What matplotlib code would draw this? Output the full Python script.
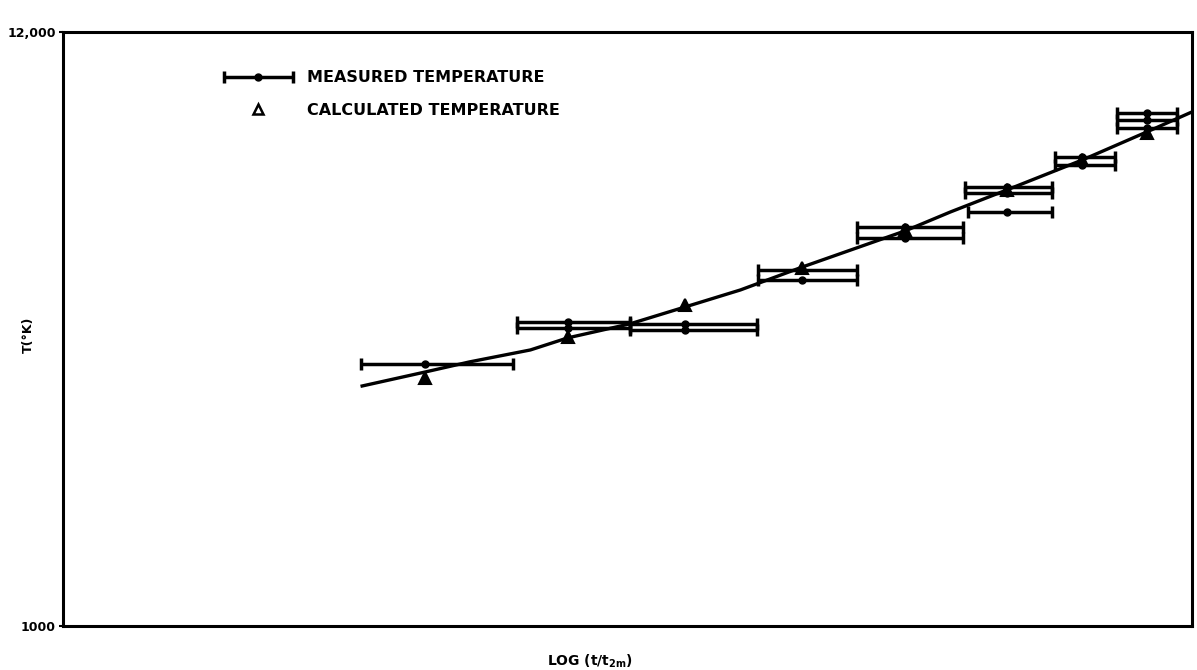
import matplotlib
matplotlib.use("Agg")
import matplotlib.pyplot as plt
import numpy as np
from matplotlib.lines import Line2D
from matplotlib.legend_handler import HandlerErrorbar
from matplotlib.ticker import FixedLocator, NullLocator

plt.rcParams["font.family"] = ["DejaVu Sans"]
plt.rcParams["mathtext.default"] = "bf"

# fitted curve (x is an unlabelled log-time scale, 0..10 across the frame)
curve_x = [2.65, 3.21, 3.60, 4.14, 4.47, 5.02, 5.51, 6.00, 6.55, 7.46, 7.86, 8.36, 9.03, 9.60, 10.0]
curve_t = [2729, 2894, 3018, 3173, 3337, 3538, 3798, 4078, 4490, 5222, 5651, 6197, 7026, 7899, 8588]

# measured temperatures with horizontal bars (bar ends x_lo, x_hi)
meas_x = [3.21, 4.47, 4.47, 5.51, 5.51, 6.55, 6.55, 7.46, 7.46, 8.36, 8.36, 8.36, 9.03, 9.03, 9.60, 9.60, 9.60]
meas_t = [2992, 3567, 3479, 3538, 3450, 4435, 4254, 5309, 5070, 6275, 6120, 5651, 7114, 6881, 8551, 8305, 8032]
meas_lo = [2.64, 4.02, 4.02, 5.02, 5.02, 6.16, 6.16, 7.03, 7.03, 7.99, 7.99, 8.02, 8.79, 8.79, 9.34, 9.34, 9.34]
meas_hi = [3.99, 5.02, 5.02, 6.15, 6.15, 7.03, 7.03, 7.97, 7.97, 8.76, 8.76, 8.76, 9.32, 9.32, 9.87, 9.87, 9.87]

# calculated temperatures
calc_x = [3.21, 4.47, 5.51, 6.55, 7.46, 8.36, 9.03, 9.60]
calc_t = [2822, 3351, 3830, 4472, 5243, 6197, 7026, 7867]

fig = plt.figure(figsize=(11.97, 6.70), dpi=100)
ax = fig.add_axes([0.0526, 0.0657, 0.9432, 0.8866])

ax.plot(curve_x, curve_t, color="black", lw=2.4, zorder=2)

mx = np.array(meas_x)
xerr = [mx - np.array(meas_lo), np.array(meas_hi) - mx]
meas = ax.errorbar(meas_x, meas_t, xerr=xerr, fmt="o", color="black", ms=5,
                   elinewidth=2.5, capsize=4, capthick=2.5, zorder=3)
ax.plot(calc_x, calc_t, "^", ms=8, mfc="black", mec="black", mew=1.5, zorder=4)

ax.set_yscale("log")
ax.set_xlim(0, 10)
ax.set_ylim(1000, 12000)
ax.yaxis.set_major_locator(FixedLocator([1000, 12000]))
ax.yaxis.set_minor_locator(NullLocator())
ax.set_yticklabels(["1000", "12,000"], fontsize=9, fontweight="bold")
ax.tick_params(axis="y", length=3, width=1.5, pad=2)
ax.set_xticks([])
for sp in ax.spines.values():
    sp.set_linewidth(2.2)

ax.set_ylabel("T(°K)", fontsize=9, fontweight="bold")
ax.yaxis.set_label_coords(-0.025, 0.49)
ax.set_xlabel("LOG (t/t$_{2m}$)", fontsize=10, fontweight="bold")
ax.xaxis.set_label_coords(0.467, -0.045)

calc_handle = Line2D([], [], ls="none", marker="^", ms=7, mfc="white", mec="black", mew=1.8)
ax.legend([meas, calc_handle], ["MEASURED TEMPERATURE", "CALCULATED TEMPERATURE"],
          frameon=False, loc="upper left", bbox_to_anchor=(0.13, 0.96),
          handlelength=4.3, handletextpad=0.9, labelspacing=1.1,
          handler_map={type(meas): HandlerErrorbar(xerr_size=2.15)},
          prop=dict(weight="bold", size=11.5))

fig.savefig("out.png", dpi=100)
